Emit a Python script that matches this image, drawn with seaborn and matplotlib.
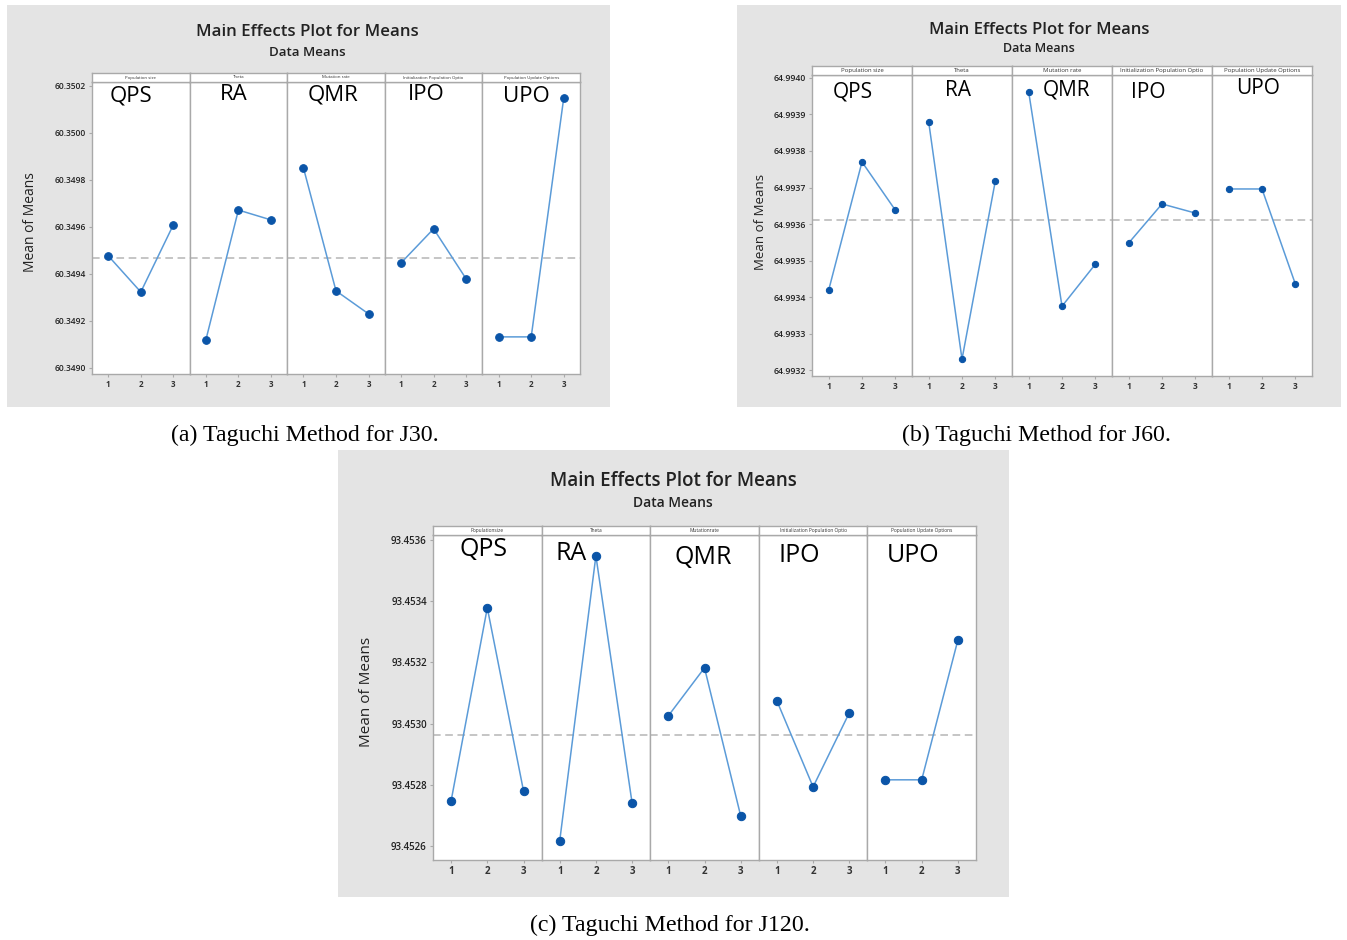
import numpy as np
import matplotlib
matplotlib.use("Agg")
import matplotlib.pyplot as plt
from matplotlib.patches import Rectangle
import seaborn as sns

sns.set_style("white")
plt.rcParams['font.family'] = ['Open Sans', 'DejaVu Sans']

# ---- data (level means) ----
levels = [1, 2, 3]
factors = ["QPS", "RA", "QMR", "IPO", "UPO"]
strips = ["Population size", "Theta", "Mutation rate",
          "Initialization Population Optio", "Population Update Options"]
strips_c = ["Populationsize", "Theta", "Mutationrate",
            "Initialization Population Optio", "Population Update Options"]

j30_qps = [60.349477, 60.349323, 60.349609]
j30_ra = [60.349119, 60.349672, 60.349630]
j30_qmr = [60.349851, 60.349328, 60.349230]
j30_ipo = [60.349447, 60.349592, 60.349379]
j30_upo = [60.349132, 60.349132, 60.350149]
j30_mean = 60.349468
j30_ticks = [60.3490, 60.3492, 60.3494, 60.3496, 60.3498, 60.3500, 60.3502]

j60_qps = [64.993419, 64.993770, 64.993638]
j60_ra = [64.993880, 64.993230, 64.993718]
j60_qmr = [64.993962, 64.993375, 64.993490]
j60_ipo = [64.993548, 64.993655, 64.993630]
j60_upo = [64.993696, 64.993696, 64.993436]
j60_mean = 64.993611
j60_ticks = [64.9932, 64.9933, 64.9934, 64.9935, 64.9936, 64.9937, 64.9938, 64.9939, 64.9940]

j120_qps = [93.452747, 93.453378, 93.452780]
j120_ra = [93.452616, 93.453548, 93.452740]
j120_qmr = [93.453025, 93.453182, 93.452698]
j120_ipo = [93.453074, 93.452793, 93.453035]
j120_upo = [93.452816, 93.452816, 93.453273]
j120_mean = 93.452963
j120_ticks = [93.4526, 93.4528, 93.4530, 93.4532, 93.4534, 93.4536]

W, H = 1347, 940
fig = plt.figure(figsize=(W / 100, H / 100), dpi=100)

LINE = "#5b9bd8"
MARK = "#0b55a8"
GRID = "#a9a9a9"


def fx(x):
    return x / W


def fy(y):
    return 1 - y / H


panels = [
    dict(bg=(7, 5, 610, 407), box=(92, 82, 580, 374), strip=73,
         data=[j30_qps, j30_ra, j30_qmr, j30_ipo, j30_upo], mean=j30_mean,
         ylim=(60.348974, 60.350217), ticks=j30_ticks, fmt="{:.4f}",
         title=(307, 32, 53, 12.2, 9.5), ylab=(31, 222, 10), tick_fs=6.0, xt_fs=5.8, strip_fs=3.2,
         strip_names=strips, lab_fs=16,
         labels=[(131, 96), (234, 95), (333, 95), (426, 94), (526, 97)], mk=5.5),
    dict(bg=(737, 5, 1341, 407), box=(812, 75, 1312, 376), strip=66,
         data=[j60_qps, j60_ra, j60_qmr, j60_ipo, j60_upo], mean=j60_mean,
         ylim=(64.993184, 64.994008), ticks=j60_ticks, fmt="{:.4f}",
         title=(1039, 30, 48, 12.0, 9.0), ylab=(760, 222, 9.5), tick_fs=6.2, xt_fs=6.0, strip_fs=4.3,
         strip_names=strips, lab_fs=15,
         labels=[(853, 92), (958, 91), (1067, 90), (1148, 93), (1258, 89)], mk=4.5),
    dict(bg=(338, 450, 1009, 897), box=(433, 535, 976, 860), strip=526,
         data=[j120_qps, j120_ra, j120_qmr, j120_ipo, j120_upo], mean=j120_mean,
         ylim=(93.452554, 93.453616), ticks=j120_ticks, fmt="{:.4f}",
         title=(673, 481, 503, 13.5, 10.0), ylab=(366, 692, 11), tick_fs=7.0, xt_fs=7.0, strip_fs=3.5,
         strip_names=strips_c, lab_fs=18,
         labels=[(484, 550), (571, 553), (703, 557), (799, 555), (913, 556)], mk=6),
]

for p in panels:
    x0, y0, x1, y1 = p["bg"]
    fig.patches.append(Rectangle((fx(x0), fy(y1)), fx(x1 - x0), (y1 - y0) / H,
                                 transform=fig.transFigure, facecolor="#e4e4e4",
                                 edgecolor="none", zorder=-10))
    bx0, by0, bx1, by1 = p["box"]
    cw = (bx1 - bx0) / 5
    for i, vals in enumerate(p["data"]):
        left = bx0 + i * cw
        ax = fig.add_axes([fx(left), fy(by1), cw / W, (by1 - by0) / H])
        ax.set_facecolor("white")
        ax.axhline(p["mean"], color="#b5b5b5", lw=1.1, ls=(0, (5, 3)), zorder=1)
        sns.lineplot(x=levels, y=vals, ax=ax, color=LINE, lw=1.1, marker="o",
                     markersize=p["mk"], markerfacecolor=MARK, markeredgecolor=MARK, zorder=3)
        ax.set_xlim(0.5, 3.5)
        ax.set_ylim(*p["ylim"])
        ax.set_xticks(levels)
        ax.set_xticklabels([str(v) for v in levels], fontsize=p["xt_fs"], color="#333333",
                           fontweight="bold")
        ax.tick_params(axis="x", length=2.5, color=GRID, pad=2, bottom=True)
        ax.set_xlabel("")
        ax.set_ylabel("")
        if i == 0:
            ax.set_yticks(p["ticks"])
            ax.set_yticklabels([p["fmt"].format(t) for t in p["ticks"]], fontsize=p["tick_fs"],
                               color="#222222", fontweight="semibold")
            ax.tick_params(axis="y", length=2.5, color=GRID, pad=2, left=True)
        else:
            ax.set_yticks([])
        for s in ax.spines.values():
            s.set_color(GRID)
            s.set_linewidth(1.0)
        # strip header
        sa = fig.add_axes([fx(left), fy(by0), cw / W, (by0 - p["strip"]) / H])
        sa.set_facecolor("white")
        sa.set_xticks([])
        sa.set_yticks([])
        for s in sa.spines.values():
            s.set_color(GRID)
            s.set_linewidth(1.0)
        sa.text(0.5, 0.5, p["strip_names"][i], ha="center", va="center",
                fontsize=p["strip_fs"], color="#333333", transform=sa.transAxes)
    tx, ty1, ty2, tfs, sfs = p["title"]
    fig.text(fx(tx), fy(ty1), "Main Effects Plot for Means", ha="center", va="center",
             fontsize=tfs, color="#222222", fontweight="semibold")
    fig.text(fx(tx), fy(ty2), "Data Means", ha="center", va="center",
             fontsize=sfs, color="#222222", fontweight="semibold")
    lx, ly, lfs = p["ylab"]
    fig.text(fx(lx), fy(ly), "Mean of Means", ha="center", va="center", rotation=90,
             fontsize=lfs, color="#222222")
    for name, (px, py) in zip(factors, p["labels"]):
        fig.text(fx(px), fy(py), name, ha="center", va="center", fontsize=p["lab_fs"],
                 color="black", zorder=10)

cap = dict(ha="center", va="center", fontsize=17.2, family="Liberation Serif", color="black")
fig.text(fx(305), fy(435), "(a) Taguchi Method for J30.", **cap)
fig.text(fx(1036), fy(435), "(b) Taguchi Method for J60.", **cap)
fig.text(fx(670), fy(925), "(c) Taguchi Method for J120.", **cap)

fig.savefig("out.png", dpi=100, facecolor="white")
